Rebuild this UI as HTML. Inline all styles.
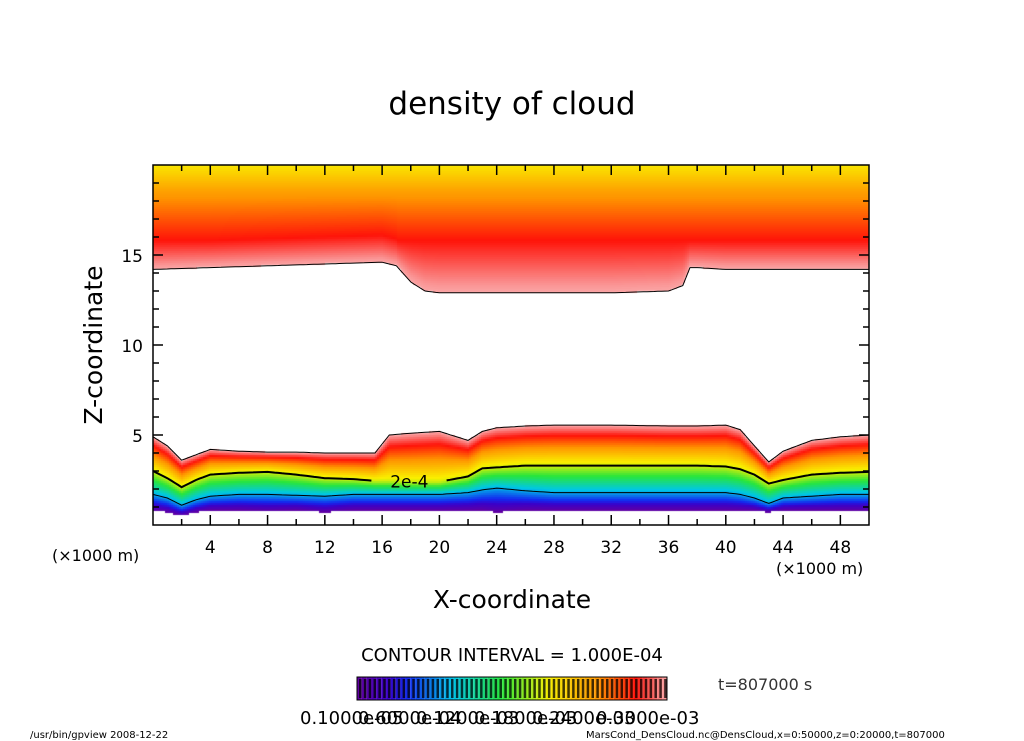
<!DOCTYPE html>
<html><head><meta charset="utf-8">
<style>
html,body{margin:0;padding:0;background:#fff;}
#wrap{position:relative;width:1024px;height:741px;overflow:hidden;font-family:"DejaVu Sans","Liberation Sans",sans-serif;}
canvas{position:absolute;left:153px;top:165px;}
svg{position:absolute;left:0;top:0;}
</style></head>
<body>
<div id="wrap">
<canvas id="field" width="716" height="360"></canvas>
<svg id="svg" width="1024" height="741" font-family="DejaVu Sans, Liberation Sans, sans-serif">
<text x="512" y="114" font-size="31" text-anchor="middle">density of cloud</text>
<g id="contours"></g>
<g id="axes"></g>
<text x="102" y="345" font-size="25" text-anchor="middle" transform="rotate(-90 102 345)">Z-coordinate</text>
<text x="512" y="608" font-size="25" text-anchor="middle">X-coordinate</text>
<text x="52" y="561" font-size="16">(×1000 m)</text>
<text x="776" y="574" font-size="16">(×1000 m)</text>
<text x="512" y="661" font-size="18" text-anchor="middle">CONTOUR INTERVAL = 1.000E-04</text>
<g id="cbar"></g>
<text x="718" y="690" font-size="16" fill="#333">t=807000 s</text>
<g font-size="18">
<text x="300" y="724">0.1000e-05</text><text x="358" y="724">0.6000e-04</text><text x="416" y="724">0.1200e-03</text><text x="474" y="724">0.1800e-03</text><text x="532" y="724">0.2400e-03</text><text x="596" y="724">0.3000e-03</text>
</g>
<text x="30" y="738" font-size="10">/usr/bin/gpview   2008-12-22</text>
<text x="586" y="738" font-size="10">MarsCond_DensCloud.nc@DensCloud,x=0:50000,z=0:20000,t=807000</text>
</svg>
</div>
<script>
// data (x in km, z in km)
const xs      = [0,1,2,3,4,6,8,10,12,14,15.5,16.5,18,20,22,23,24,26,28,32,36,38,40,41,42,43,44,46,48,50];
const topZ    = [4.9,4.4,3.6,3.9,4.2,4.1,4.05,4.05,4.0,4.0,4.0,5.0,5.1,5.2,4.7,5.2,5.4,5.5,5.55,5.55,5.5,5.5,5.55,5.3,4.4,3.5,4.1,4.7,4.9,5.0];
const c2Z     = [3.0,2.6,2.1,2.5,2.8,2.9,2.95,2.8,2.6,2.55,2.45,2.45,2.4,2.4,2.7,3.15,3.2,3.3,3.3,3.3,3.3,3.3,3.25,3.1,2.8,2.3,2.5,2.8,2.9,2.95];
const c1Z     = [1.7,1.5,1.1,1.4,1.6,1.7,1.7,1.65,1.6,1.7,1.7,1.7,1.7,1.7,1.8,1.95,2.05,1.9,1.8,1.8,1.8,1.8,1.8,1.7,1.5,1.2,1.5,1.6,1.7,1.7];
const botZ    = [0.8,0.7,0.5,0.7,0.8,0.8,0.75,0.8,0.7,0.8,0.8,0.8,0.8,0.8,0.8,0.8,0.7,0.8,0.8,0.8,0.8,0.8,0.8,0.8,0.8,0.7,0.8,0.8,0.8,0.8];
const upX     = [0,4,8,12,16,17,18,19,20,24,28,32,36,37,37.5,38,40,44,50];
const upBase  = [14.2,14.3,14.4,14.5,14.6,14.4,13.5,13.0,12.9,12.9,12.9,12.9,13.0,13.3,14.3,14.3,14.2,14.2,14.2];
const xTicks = [4,8,12,16,20,24,28,32,36,40,44,48];
const yTicks = [5,10,15];
// palette: density(1e-4) -> color
const palD = [0,0.4,0.6,1.1,1.6,2.1,2.6,3.0,3.3,3.5];
const palC = [[110,0,150],[60,0,200],[20,40,240],[0,200,230],[40,230,60],[250,240,0],[255,150,0],[255,20,10],[250,150,150],[255,215,215]];

const X0=153,X1=869,Y0=165,Y1=525;
const sx=x=>X0+(x/50)*(X1-X0);
const sy=z=>Y1-(z/20)*(Y1-Y0);
function interp(xa,ya,x){ if(x<=xa[0])return ya[0]; for(let i=1;i<xa.length;i++){ if(x<=xa[i]){const t=(x-xa[i-1])/(xa[i]-xa[i-1]);return ya[i-1]+t*(ya[i]-ya[i-1]);}} return ya[ya.length-1];}
function color(d){ const r=interp(palD,palC.map(c=>c[0]),d),g=interp(palD,palC.map(c=>c[1]),d),b=interp(palD,palC.map(c=>c[2]),d); return `rgb(${r|0},${g|0},${b|0})`;}

// field
const ctx=document.getElementById('field').getContext('2d');
const W=X1-X0,H=Y1-Y0;
for(let px=0;px<W;px+=2){
  const x=(px+1)/W*50;
  const tp=interp(xs,topZ,x),c2=interp(xs,c2Z,x),c1=interp(xs,c1Z,x),bt=interp(xs,botZ,x);
  const ub=interp(upX,upBase,x), ur=Math.max(ub+1.5,15.8);
  for(let py=0;py<H;py+=2){
    const z=20-(py+1)/H*20; let d=null;
    if(z>=bt&&z<=tp){
      if(z<c1) d=0.1+(z-bt)/(c1-bt)*0.9;
      else if(z<c2) d=1+(z-c1)/(c2-c1);
      else d=2+(z-c2)/(tp-c2)*1.35;
    } else if(z>=ub){
      d=interp([ub,ur,18.5,20],[3.35,3.0,2.55,2.15],z);
    }
    if(d!==null){ctx.fillStyle=color(d);ctx.fillRect(px,py,2,2);}
  }
}
// contours
const NS='http://www.w3.org/2000/svg';
const cg=document.getElementById('contours');
function line(xa,za,w,name,skip){
  let d='',pen=false;
  for(let x=0;x<=50;x+=0.25){
    const z=interp(xa,za,x);
    if(skip&&x>skip[0]&&x<skip[1]){pen=false;continue;}
    d+=(pen?'L':'M')+sx(x).toFixed(1)+' '+sy(z).toFixed(1);pen=true;
  }
  const p=document.createElementNS(NS,'path');
  p.setAttribute('d',d);p.setAttribute('fill','none');p.setAttribute('stroke','#000');p.setAttribute('stroke-width',w);
  
  
  cg.appendChild(p);
}
line(xs,topZ,1,'lower-cloud-top-contour');
line(xs,c2Z,2,'contour-2e-4',[15.3,20.4]);
line(xs,c1Z,1,'contour-1e-4');
line(upX,upBase,1,'upper-cloud-base-contour');
const lbl=document.createElementNS(NS,'text');
lbl.setAttribute('x',sx(17.9));lbl.setAttribute('y',sy(interp(xs,c2Z,17.9))+6);lbl.setAttribute('font-size','17');lbl.setAttribute('text-anchor','middle');
lbl.textContent='2e-4';


cg.appendChild(lbl);
// axes
const ag=document.getElementById('axes');
let ad=`M${X0} ${Y0}H${X1}V${Y1}H${X0}Z`;
for(let x=2;x<50;x+=2){const L=(x%4===0)?10:6;ad+=`M${sx(x)} ${Y1}v${-L}M${sx(x)} ${Y0}v${L}`;}
for(let z=1;z<20;z++){const L=(z%5===0)?10:6;ad+=`M${X0} ${sy(z)}h${L}M${X1} ${sy(z)}h${-L}`;}
const fr=document.createElementNS(NS,'path');
fr.setAttribute('d',ad);fr.setAttribute('fill','none');fr.setAttribute('stroke','#000');fr.setAttribute('stroke-width','1.5');


ag.appendChild(fr);
xTicks.forEach(v=>{const t=document.createElementNS(NS,'text');t.setAttribute('x',sx(v));t.setAttribute('y',553);t.setAttribute('font-size','17');t.setAttribute('text-anchor','middle');t.textContent=v;


ag.appendChild(t);});
yTicks.forEach(v=>{const t=document.createElementNS(NS,'text');t.setAttribute('x',143);t.setAttribute('y',sy(v)+7);t.setAttribute('font-size','17');t.setAttribute('text-anchor','end');t.textContent=v;


ag.appendChild(t);});
// colorbar
const cb=document.getElementById('cbar');
const CX0=357,CX1=667,n=64;
for(let i=0;i<n;i++){
  const d=0.1+i/(n-1)*3.2;
  const r=document.createElementNS(NS,'rect');
  r.setAttribute('x',CX0+i*(CX1-CX0)/n);r.setAttribute('y',677);r.setAttribute('width',(CX1-CX0)/n);r.setAttribute('height',23);
  r.setAttribute('fill',color(d));
  
  
  cb.appendChild(r);
  const s=document.createElementNS(NS,'rect');
  s.setAttribute('x',CX0+i*(CX1-CX0)/n+2);s.setAttribute('y',679);s.setAttribute('width',2.5);s.setAttribute('height',19);s.setAttribute('fill','#000');s.setAttribute('opacity','0.75');
  
  
  cb.appendChild(s);
}
const cf=document.createElementNS(NS,'rect');
cf.setAttribute('x',CX0);cf.setAttribute('y',677);cf.setAttribute('width',CX1-CX0);cf.setAttribute('height',23);cf.setAttribute('fill','none');cf.setAttribute('stroke','#000');


cb.appendChild(cf);
</script>
</body></html>
